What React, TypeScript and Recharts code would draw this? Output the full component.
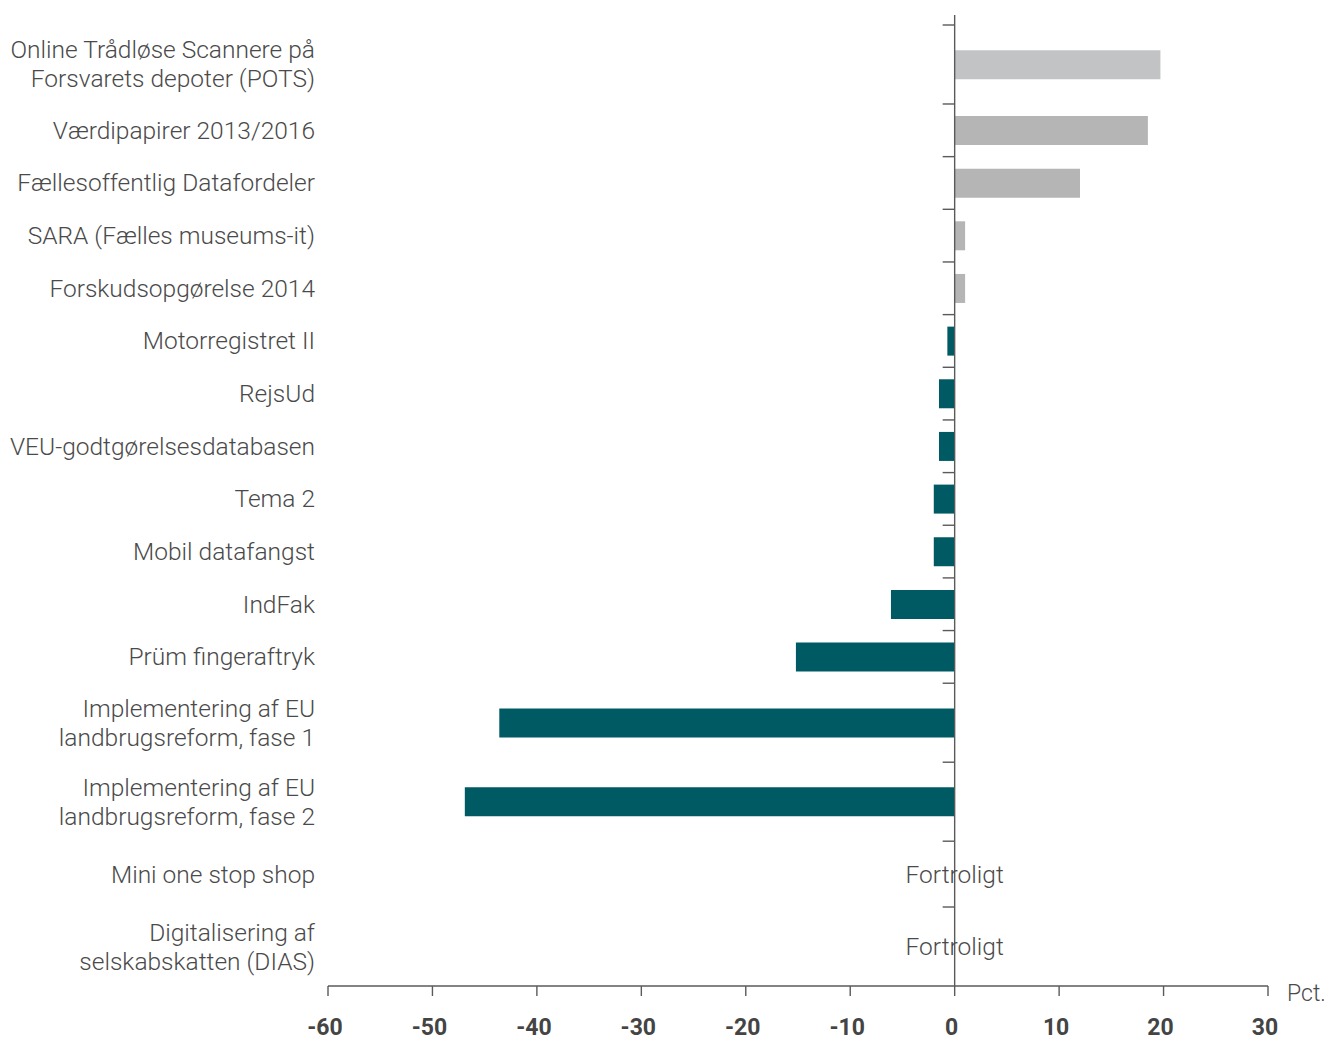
import React from "react";
import { BarChart, Bar, XAxis, YAxis, Cell, ReferenceLine, ReferenceDot } from "recharts";

const projectNames: string[] = [
  "Online Trådløse Scannere på\nForsvarets depoter (POTS)",
  "Værdipapirer 2013/2016",
  "Fællesoffentlig Datafordeler",
  "SARA (Fælles museums-it)",
  "Forskudsopgørelse 2014",
  "Motorregistret II",
  "RejsUd",
  "VEU-godtgørelsesdatabasen",
  "Tema 2",
  "Mobil datafangst",
  "IndFak",
  "Prüm fingeraftryk",
  "Implementering af EU\nlandbrugsreform, fase 1",
  "Implementering af EU\nlandbrugsreform, fase 2",
  "Mini one stop shop",
  "Digitalisering af\nselskabskatten (DIAS)",
];

const deviationPct: (number | null)[] = [
  19.7, 18.5, 12.0, 1.0, 1.0, -0.7, -1.5, -1.5, -2.0, -2.0, -6.1, -15.2, -43.6, -46.9, null, null,
];

const confidentialText = "Fortroligt";
const xTicks: number[] = [-60, -50, -40, -30, -20, -10, 0, 10, 20, 30];
const unitLabel = "Pct.";

// layout constants (styling, not data)
const FONT = "Roboto, 'Open Sans', sans-serif";
const TEXT = "#4a4a4a";
const AXIS = "#5a5a5a";
const TEAL = "#005a63";
const GREY = "#b5b5b5";
const GREY_LIGHT = "#c2c3c5";
const LINE_H = 29;
const LABEL_SIZE = 24.5;

// row weights: two-line labels get taller rows, rows without a bar a bit more room
const rowWeights = projectNames.map((n, i) => {
  const w = n.split("\n").length > 1 ? 1.5 : 1;
  return deviationPct[i] == null ? Math.max(w, 1.25) : w;
});
const boundaries: number[] = [0];
rowWeights.forEach((w) => boundaries.push(boundaries[boundaries.length - 1] + w));
const total = boundaries[boundaries.length - 1];

const rows = projectNames.map((name, i) => ({
  name,
  pos: boundaries[i] + rowWeights[i] / 2,
  value: deviationPct[i],
}));
const centers = rows.map((r) => r.pos);

const LabelTick = (props: any) => {
  const { x, y, payload } = props;
  const row = rows.find((r) => Math.abs(r.pos - payload.value) < 1e-6);
  if (!row) return null;
  const lines = row.name.split("\n");
  return (
    <text x={x} y={y} textAnchor="end" fill={TEXT} fontFamily={FONT} fontWeight={300} fontSize={LABEL_SIZE}>
      {lines.map((l, k) => (
        <tspan key={k} x={x} dy={k === 0 ? -((lines.length - 1) * LINE_H) / 2 + 8.5 : LINE_H}>
          {l}
        </tspan>
      ))}
    </text>
  );
};

const XTick = (props: any) => {
  const { x, y, payload } = props;
  return (
    <text x={x - 3} y={y} dy={32} textAnchor="middle" fill="#444" fontFamily={FONT} fontWeight={700} fontSize={23}>
      {payload.value}
    </text>
  );
};

const TickMark = (p: any) => (
  <line x1={p.x1 - 12} y1={p.y1} x2={p.x1} y2={p.y1} stroke={AXIS} strokeWidth={1.4} />
);

const barColor = (v: number | null, i: number) => {
  if (v == null) return "none";
  if (v < 0) return TEAL;
  return i === 0 ? GREY_LIGHT : GREY;
};

export default function App() {
  return (
    <div style={{ fontFamily: FONT, marginTop: -8 }}>
      <BarChart
        width={1324}
        height={1041}
        data={rows}
        layout="vertical"
        margin={{ top: 15, right: 64, bottom: 0, left: 0 }}
        style={{ overflow: "visible" }}
      >
        <XAxis
          type="number"
          domain={[-60, 30]}
          ticks={xTicks}
          interval={0}
          height={55}
          stroke={AXIS}
          strokeWidth={1.4}
          tickSize={10}
          tickMargin={7}
          tick={<XTick />}
          label={{
            content: (lp: any) => {
              const vb = lp.viewBox || {};
              return (
                <text
                  x={vb.x + vb.width + 19}
                  y={vb.y + 15}
                  fill={TEXT}
                  fontFamily={FONT}
                  fontWeight={300}
                  fontSize={23}
                >
                  {unitLabel}
                </text>
              );
            },
          }}
        />
        <YAxis
          type="number"
          dataKey="pos"
          domain={[0, total]}
          ticks={centers}
          interval={0}
          width={320}
          padding={{ top: 10, bottom: 0 }}
          axisLine={false}
          tickLine={false}
          tickSize={0}
          tickMargin={13}
          tick={<LabelTick />}
        />
        <ReferenceLine x={0} stroke={AXIS} strokeWidth={1.4} />
        {boundaries.slice(0, -1).map((b, i) => (
          <ReferenceLine
            key={`b${i}`}
            segment={[
              { x: 0, y: b },
              { x: 0, y: b },
            ]}
            shape={<TickMark />}
          />
        ))}
        <Bar dataKey="value" barSize={29} isAnimationActive={false}>
          {rows.map((r, i) => (
            <Cell key={i} fill={barColor(r.value, i)} />
          ))}
        </Bar>
        {rows
          .filter((r) => r.value == null)
          .map((r, i) => (
            <ReferenceDot
              key={`c${i}`}
              x={0}
              y={r.pos}
              r={0}
              fill="none"
              stroke="none"
              label={{
                value: confidentialText,
                position: "center",
                fill: TEXT,
                fontFamily: FONT,
                fontWeight: 300,
                fontSize: LABEL_SIZE,
              }}
            />
          ))}
      </BarChart>
    </div>
  );
}
